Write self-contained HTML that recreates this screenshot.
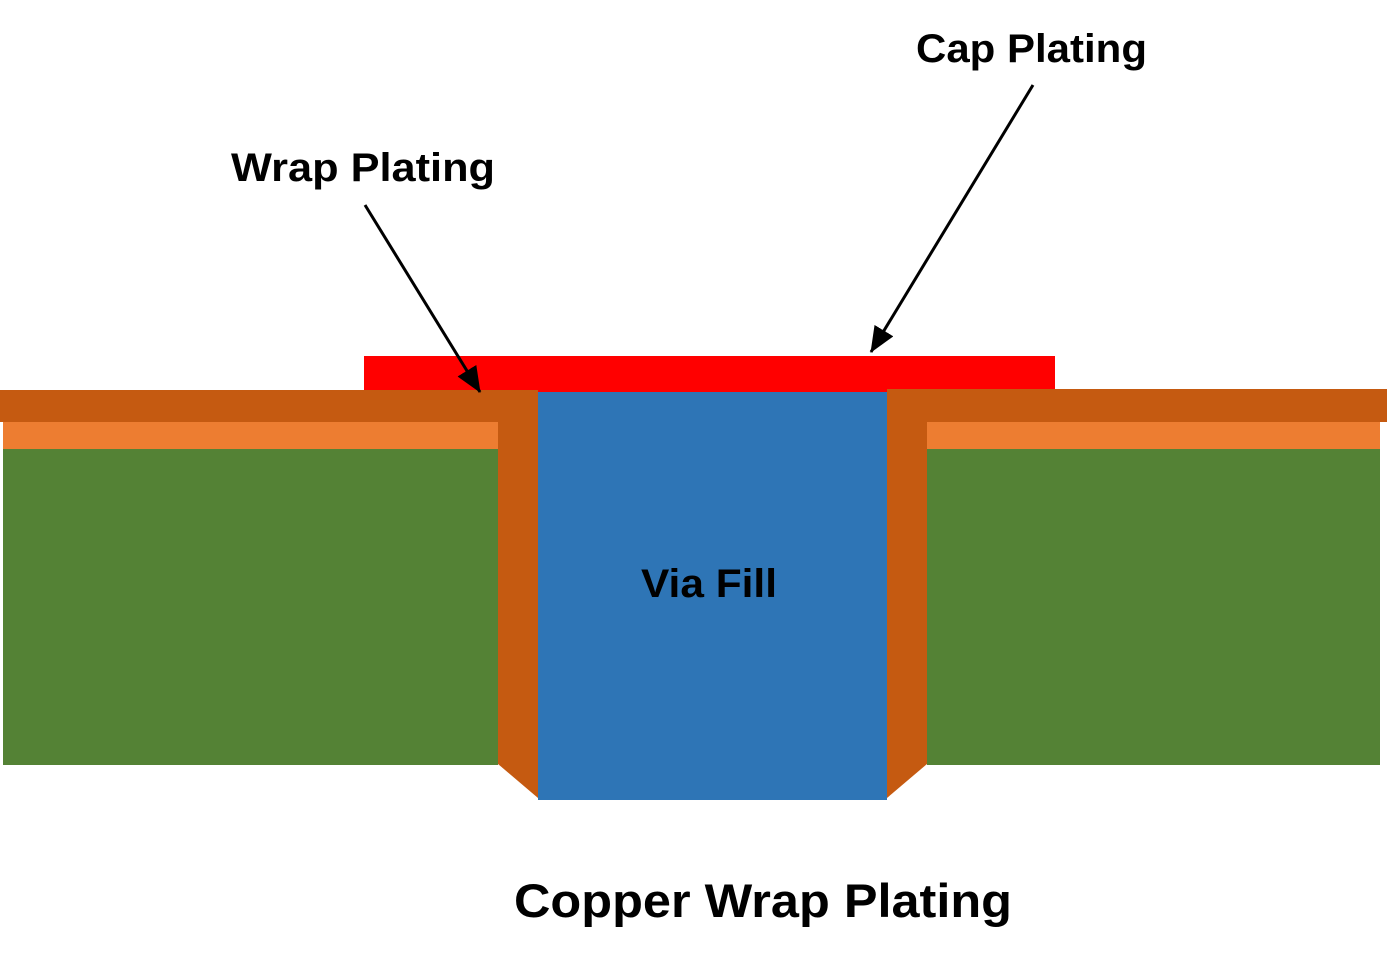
<!DOCTYPE html>
<html><head><meta charset="utf-8"><style>html,body{margin:0;padding:0;background:#fff;}svg{display:block}</style></head><body>
<svg width="1387" height="967" viewBox="0 0 1387 967" xmlns="http://www.w3.org/2000/svg">
<defs><marker id="ah" markerWidth="10" markerHeight="10" refX="9" refY="5" orient="auto" markerUnits="userSpaceOnUse" viewBox="0 0 10 10"><path d="M0,0 L10,5 L0,10 z" fill="#000"/></marker>
<marker id="a2" markerWidth="26" markerHeight="22" refX="25" refY="11" orient="auto" markerUnits="userSpaceOnUse"><path d="M0,0 L26,11 L0,22 z" fill="#000"/></marker></defs>
<rect x="364" y="356" width="691" height="36" fill="#ff0000"/>
<rect x="3" y="449" width="495" height="316" fill="#548235"/>
<rect x="927" y="449" width="453" height="316" fill="#548235"/>
<rect x="3" y="422" width="495" height="27" fill="#ed7d31"/>
<rect x="927" y="422" width="453" height="27" fill="#ed7d31"/>
<rect x="0" y="390" width="538" height="32" fill="#c55a11"/>
<rect x="887" y="389" width="500" height="33" fill="#c55a11"/>
<polygon points="498,390 538,390 538,798 498,764" fill="#c55a11"/>
<polygon points="887,390 927,390 927,764 887,798" fill="#c55a11"/>
<rect x="538" y="392" width="349" height="408" fill="#2e75b6"/>
<line x1="365" y1="205" x2="480" y2="392" stroke="#000" stroke-width="3" marker-end="url(#a2)"/>
<line x1="1033" y1="85" x2="871" y2="352" stroke="#000" stroke-width="3" marker-end="url(#a2)"/>
<g font-family="Liberation Sans, sans-serif" font-weight="bold" fill="#000">
<text x="916" y="62" font-size="40" textLength="231" lengthAdjust="spacingAndGlyphs">Cap Plating</text>
<text x="231" y="181" font-size="40" textLength="264" lengthAdjust="spacingAndGlyphs">Wrap Plating</text>
<text x="641" y="597" font-size="40" textLength="136" lengthAdjust="spacingAndGlyphs">Via Fill</text>
<text x="514" y="917" font-size="47" textLength="498" lengthAdjust="spacingAndGlyphs">Copper Wrap Plating</text>
</g>
</svg>
</body></html>
